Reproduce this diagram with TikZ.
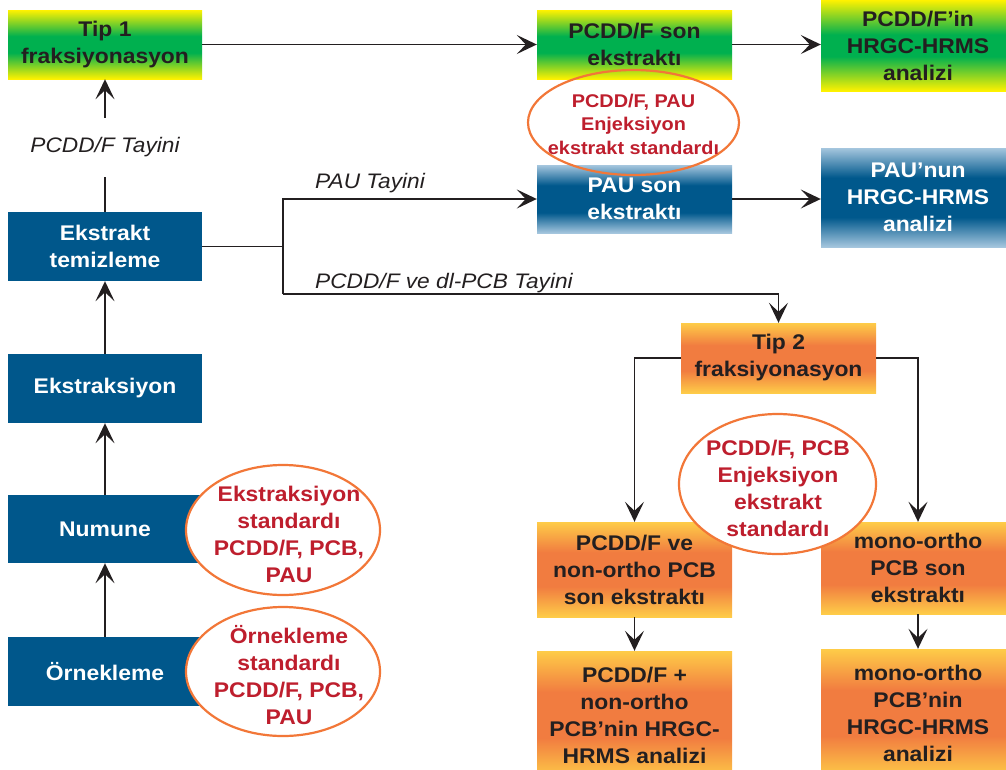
\documentclass[tikz,border=0pt]{standalone}
\usepackage{fontspec}
\setmainfont{Liberation Sans}[FakeStretch=1.08]
\usetikzlibrary{arrows.meta,shapes.geometric}
\definecolor{cY}{RGB}{255,242,0}
\definecolor{cG}{RGB}{0,176,79}
\definecolor{cOY}{RGB}{254,204,72}
\definecolor{cOR}{RGB}{241,124,64}
\definecolor{cLB}{RGB}{165,198,222}
\definecolor{cDB}{RGB}{0,88,140}
\definecolor{cBlue}{RGB}{0,87,139}
\definecolor{cText}{RGB}{35,31,32}
\definecolor{cRed}{RGB}{190,30,45}
\definecolor{cEll}{RGB}{242,119,56}
\pgfdeclareverticalshading{gyshade}{100bp}{color(0bp)=(cY); color(25bp)=(cY); color(44bp)=(cG); color(56bp)=(cG); color(75bp)=(cY); color(100bp)=(cY)}
\pgfdeclareverticalshading{orshade}{100bp}{color(0bp)=(cOY); color(25bp)=(cOY); color(41bp)=(cOR); color(59bp)=(cOR); color(75bp)=(cOY); color(100bp)=(cOY)}
\pgfdeclareverticalshading{blshade}{100bp}{color(0bp)=(cLB); color(25bp)=(cLB); color(40bp)=(cDB); color(60bp)=(cDB); color(75bp)=(cLB); color(100bp)=(cLB)}
\newcommand\boxfont{\fontsize{21.2}{27}\selectfont\bfseries}
\newcommand\smallstdfont{\fontsize{18.4}{23.5}\selectfont\bfseries}
\newcommand\labfont{\fontsize{21}{24}\selectfont\itshape}
\tikzset{
  boxbase/.style={rectangle, minimum width=194pt, inner sep=0pt, align=center, font=\boxfont},
  bluebox/.style={boxbase, fill=cBlue, text=white},
  gbox/.style={boxbase, shading=gyshade, text=cText},
  obox/.style={boxbase, shading=orshade, text=cText},
  bgbox/.style={boxbase, shading=blshade, text=white},
  stdell/.style={ellipse, draw=cEll, line width=2.2pt, fill=white, inner sep=0pt},
  stdtxt/.style={inner sep=0pt, align=center, text=cRed, font=\boxfont},
  lab/.style={font=\labfont, text=cText, inner sep=0pt},
  ln/.style={line width=1.5pt, draw=cText},
  arr/.style={-{Stealth[length=20pt,width=19pt,inset=9pt]}}
}
\begin{document}
\begin{tikzpicture}[x=1pt,y=-1pt]
\useasboundingbox (0,0) rectangle (1006,769);
\clip (0,0) rectangle (1006,769);
% left column
\node[gbox, minimum height=69pt] (tip1) at (105,44.5) {Tip 1\\fraksiyonasyon};
\node[bluebox, minimum height=69pt] (et) at (105,246.5) {Ekstrakt\\temizleme};
\node[bluebox, minimum height=69pt] (eks) at (105,388.5) {Ekstraksiyon};
\node[bluebox, minimum height=68pt] (num) at (105,529) {Numune};
\node[bluebox, minimum height=69pt] (orn) at (105,671.5) {Örnekleme};
% top row
\node[gbox, minimum width=195pt, minimum height=69pt] (pson) at (634.5,44.5) {PCDD/F son\\ekstraktı};
\node[gbox, minimum height=91pt] (panal) at (918,45.5) {PCDD/F’in\\HRGC-HRMS\\analizi};
\node[bgbox, minimum width=195pt, minimum height=68pt] (pauson) at (634.5,199) {PAU son\\ekstraktı};
\node[bgbox, minimum height=99pt] (paunun) at (918,197.5) {PAU’nun\\HRGC-HRMS\\analizi};
% tip 2 part
\node[obox, minimum width=195pt, minimum height=70pt] (tip2) at (778.5,358) {Tip 2\\fraksiyonasyon};
\node[obox, minimum width=195pt, minimum height=95pt] (pcddve) at (634.5,569.5) {PCDD/F ve\\non-ortho PCB\\son ekstraktı};
\node[obox, minimum height=92pt] (mono) at (918,568) {mono-ortho\\PCB son\\ekstraktı};
\node[obox, minimum width=195pt, minimum height=128pt] (pcddan) at (634.5,715) {PCDD/F +\\non-ortho\\PCB’nin HRGC-\\HRMS analizi};
\node[obox, minimum height=128pt] (monoan) at (918,713) {mono-ortho\\PCB’nin\\HRGC-HRMS\\analizi};
% standards
\node[stdell, fill=none, minimum width=211pt, minimum height=105pt] (stdtop) at (633.5,122.5) {};
\node[stdtxt, font=\smallstdfont] (stdtop-t) at (633.5,124) {PCDD/F, PAU\\Enjeksiyon\\ekstrakt standardı};
\node[stdell, minimum width=197pt, minimum height=140pt] (stdtip) at (777.5,484) {};
\node[stdtxt] (stdtip-t) at (778,488) {PCDD/F, PCB\\Enjeksiyon\\ekstrakt\\standardı};
\node[stdell, minimum width=194pt, minimum height=130pt] (stdeks) at (283,530) {};
\node[stdtxt] (stdeks-t) at (289,534) {Ekstraksiyon\\standardı\\PCDD/F, PCB,\\PAU};
\node[stdell, minimum width=194pt, minimum height=129pt] (stdorn) at (283,671.5) {};
\node[stdtxt] (stdorn-t) at (289,675) {Örnekleme\\standardı\\PCDD/F, PCB,\\PAU};
% labels
\node[lab, minimum height=59pt] (labP) at (105,147.5) {PCDD/F Tayini};
\node[lab, anchor=base west] (labPAU) at (315,188) {PAU Tayini};
\node[lab, anchor=base west] (labDL) at (315,288) {PCDD/F ve dl-PCB Tayini};
% connectors
\draw[ln,arr] (orn.north) -- (num.south);
\draw[ln,arr] (num.north) -- (eks.south);
\draw[ln,arr] (eks.north) -- (et.south);
\draw[ln] (et.north) -- (labP.south);
\draw[ln,arr] (labP.north) -- (tip1.south);
\draw[ln,arr] (tip1.east) -- (pson.west);
\draw[ln,arr] (pson.east) -- (pson.east -| panal.west);
\coordinate (jb) at (283,294);
\draw[ln] (et.east) -- (et.east -| jb);
\draw[ln,arr] (jb) -- (jb |- pauson.west) -- (pauson.west);
\draw[ln,arr] (jb) -- (jb -| tip2.north) -- (tip2.north);
\draw[ln,arr] (pauson.east) -- (pauson.east -| paunun.west);
\draw[ln,arr] (tip2.west) -| (pcddve.north);
\draw[ln,arr] (tip2.east) -| (mono.north);
\draw[ln,arr] (pcddve.south) -- (pcddan.north);
\draw[ln,arr] (mono.south) -- (monoan.north);
\end{tikzpicture}
\end{document}
